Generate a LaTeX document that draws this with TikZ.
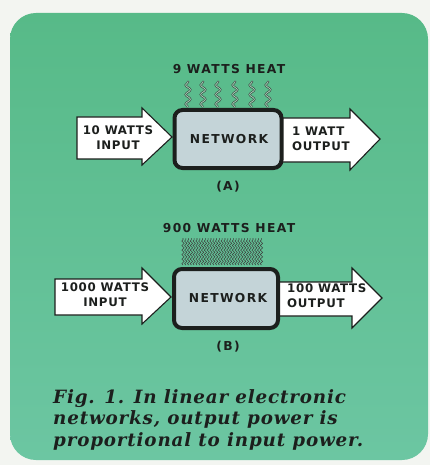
\documentclass[tikz,border=0pt]{standalone}
\usepackage{fontspec}
\usetikzlibrary{decorations.pathmorphing}
\newfontfamily\labf[LetterSpace=6]{DejaVu Sans}
\newfontfamily\headf[LetterSpace=11]{DejaVu Sans}
\newfontfamily\capf[LetterSpace=4.5]{DejaVu Serif}
\definecolor{pagewhite}{HTML}{F3F5F1}
\definecolor{greentop}{HTML}{57BA88}
\definecolor{greenbot}{HTML}{6CC6A2}
\definecolor{boxfill}{HTML}{C4D4D8}
\definecolor{inkdark}{HTML}{1C1F1D}
\definecolor{heatin}{HTML}{9ED3B6}
\begin{document}
\begin{tikzpicture}[x=1pt,y=-1pt,
  blockarrow/.style={draw=inkdark, line width=1.1pt, fill=white, line join=miter},
  netbox/.style={draw=inkdark, line width=4pt, fill=boxfill, rounded corners=8pt, inner sep=0pt},
  lab/.style={font=\labf\bfseries\fontsize{11.8}{14}\selectfont, text=inkdark, inner sep=0pt},
  headlab/.style={font=\headf\bfseries\fontsize{12.3}{14}\selectfont, text=inkdark, inner sep=0pt},
  caplab/.style={font=\capf\bfseries\itshape\fontsize{18.3}{21}\selectfont, text=inkdark, inner sep=0pt, anchor=base west},
  heatA/.style={draw=inkdark!85, line width=0.6pt, double=heatin, double distance=0.8pt,
    decorate, decoration={snake, amplitude=2.4pt, segment length=9.5pt}},
  heatB/.style={draw=inkdark!85, line width=0.55pt,
    decorate, decoration={snake, amplitude=1.2pt, segment length=4.5pt}}]
\useasboundingbox (0,0) rectangle (430,465);
\fill[pagewhite] (0,0) rectangle (430,465);
\shade[rounded corners=26pt, top color=greentop, bottom color=greenbot] (10,13) rectangle (428,460);

% ---------- (A) ----------
\node[headlab] (heatlabA) at (229,69) {9 WATTS HEAT};
\draw[blockarrow] (77,117) -- (142,117) -- (142,108) -- (172,137) -- (142,165) -- (142,159) -- (77,159) -- cycle;
\draw[blockarrow] (282,118) -- (350,118) -- (350,109) -- (380,139) -- (350,170) -- (350,162) -- (282,162) -- cycle;
\node[netbox, minimum width=107pt, minimum height=58pt] (boxA) at (228,139) {};
\node[headlab] (netA) at (229,139) {NETWORK};
\foreach \xx in {188,203,218,235,252,268}
  \draw[heatA] (\xx,107) -- (\xx,81);
\node[lab, align=center] (inA) at (118,138) {10 WATTS\\[1pt]INPUT};
\node[lab, align=left, anchor=west] (outA) at (292,139) {1 WATT\\[1pt]OUTPUT};
\node[headlab] (capA) at (228,187) {(A)};

% ---------- (B) ----------
\node[headlab] (heatlabB) at (229,228) {900 WATTS HEAT};
\draw[blockarrow] (55,279) -- (142,279) -- (142,268) -- (171,297) -- (142,324) -- (142,315) -- (55,315) -- cycle;
\draw[blockarrow] (279,282) -- (352,282) -- (352,268) -- (382,298) -- (352,328) -- (352,316) -- (279,316) -- cycle;
\node[netbox, minimum width=104pt, minimum height=59pt] (boxB) at (226,298.5) {};
\node[headlab] (netB) at (228,298) {NETWORK};
\foreach \k in {0,...,28}
  \draw[heatB] (183+\k*2.8,265) -- (183+\k*2.8,238);
\node[lab, align=center] (inB) at (105,295) {1000 WATTS\\[1pt]INPUT};
\node[lab, align=left, anchor=west] (outB) at (287,296) {100 WATTS\\[1pt]OUTPUT};
\node[headlab] (capB) at (228,347) {(B)};

% ---------- caption ----------
\node[caplab] (cap1) at (53,403) {Fig. 1. In linear electronic};
\node[caplab] (cap2) at (53,424.5) {networks, output power is};
\node[caplab] (cap3) at (53,446) {proportional to input power.};
\end{tikzpicture}
\end{document}
